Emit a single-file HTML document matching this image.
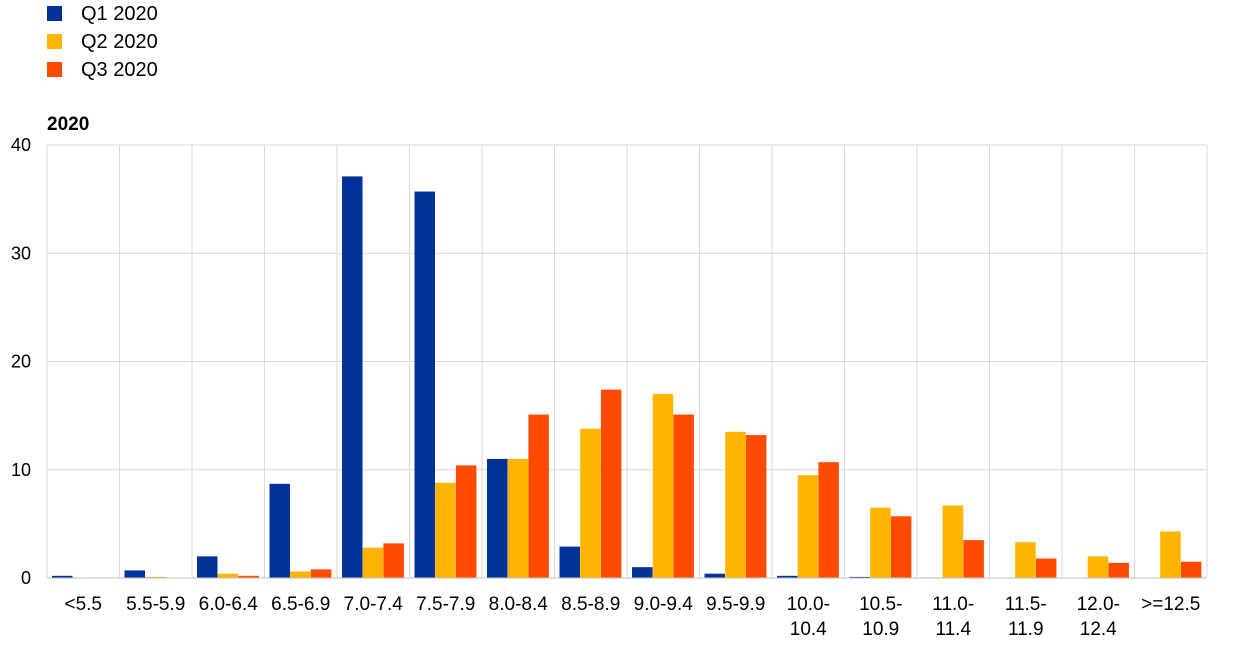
<!DOCTYPE html>
<html><head><meta charset="utf-8"><style>
body{margin:0;background:#fff;width:1240px;height:647px;overflow:hidden}
svg{font-family:"Liberation Sans",Arial,sans-serif}
</style></head><body>
<svg id="c" width="1240" height="647" xmlns="http://www.w3.org/2000/svg">
<rect x="47" y="6" width="15" height="15" fill="#003299"/>
<text x="81" y="20" font-size="20">Q1 2020</text>
<rect x="47" y="34" width="15" height="15" fill="#FFB400"/>
<text x="81" y="48" font-size="20">Q2 2020</text>
<rect x="47" y="62" width="15" height="15" fill="#FF4B00"/>
<text x="81" y="76" font-size="20">Q3 2020</text>
<text x="47" y="130" font-size="19" font-weight="bold">2020</text>
</svg>
<script>
var s=document.getElementById('c'),ns="http://www.w3.org/2000/svg";
function el(t,a,txt){var e=document.createElementNS(ns,t);for(var k in a)e.setAttribute(k,a[k]);if(txt!=null)e.textContent=txt;s.appendChild(e);return e;}
var L=47,R=1207,T=145,B=578,cw=72.5,u=(B-T)/40;
for(var v=0;v<=40;v+=10){var y=B-v*u;el('line',{x1:L,x2:R,y1:y,y2:y,stroke:'#d9d9d9','stroke-width':1});
el('text',{x:31,y:y+6,'font-size':18,'text-anchor':'end'},v);}
for(var i=0;i<=16;i++){var x=L+i*cw;el('line',{x1:x,x2:x,y1:T,y2:B,stroke:'#d9d9d9','stroke-width':1});}
var cats=[["<5.5"],["5.5-5.9"],["6.0-6.4"],["6.5-6.9"],["7.0-7.4"],["7.5-7.9"],["8.0-8.4"],["8.5-8.9"],["9.0-9.4"],["9.5-9.9"],["10.0-","10.4"],["10.5-","10.9"],["11.0-","11.4"],["11.5-","11.9"],["12.0-","12.4"],[">=12.5"]];
var d=[[0.2,0.05,0.05],[0.7,0.1,0],[2.0,0.4,0.2],[8.7,0.6,0.8],[37.1,2.8,3.2],[35.7,8.8,10.4],[11.0,11.0,15.1],[2.9,13.8,17.4],[1.0,17.0,15.1],[0.4,13.5,13.2],[0.2,9.5,10.7],[0.1,6.5,5.7],[0.05,6.7,3.5],[0,3.3,1.8],[0,2.0,1.4],[0,4.3,1.5]];
var col=["#003299","#FFB400","#FF4B00"];
for(var i=0;i<16;i++){var x0=L+i*cw;
for(var j=0;j<3;j++){var h=d[i][j]*u;if(h>0)el('rect',{x:x0+5+j*20.7,y:B-h,width:20.5,height:h,fill:col[j]});}
el('text',{x:x0+cw/2,y:610,'font-size':19,'text-anchor':'middle'},cats[i][0]);
if(cats[i][1])el('text',{x:x0+cw/2,y:635,'font-size':19,'text-anchor':'middle'},cats[i][1]);}
el('line',{x1:L,x2:R,y1:B,y2:B,stroke:'#bfbfbf','stroke-width':1});
</script>
</body></html>
